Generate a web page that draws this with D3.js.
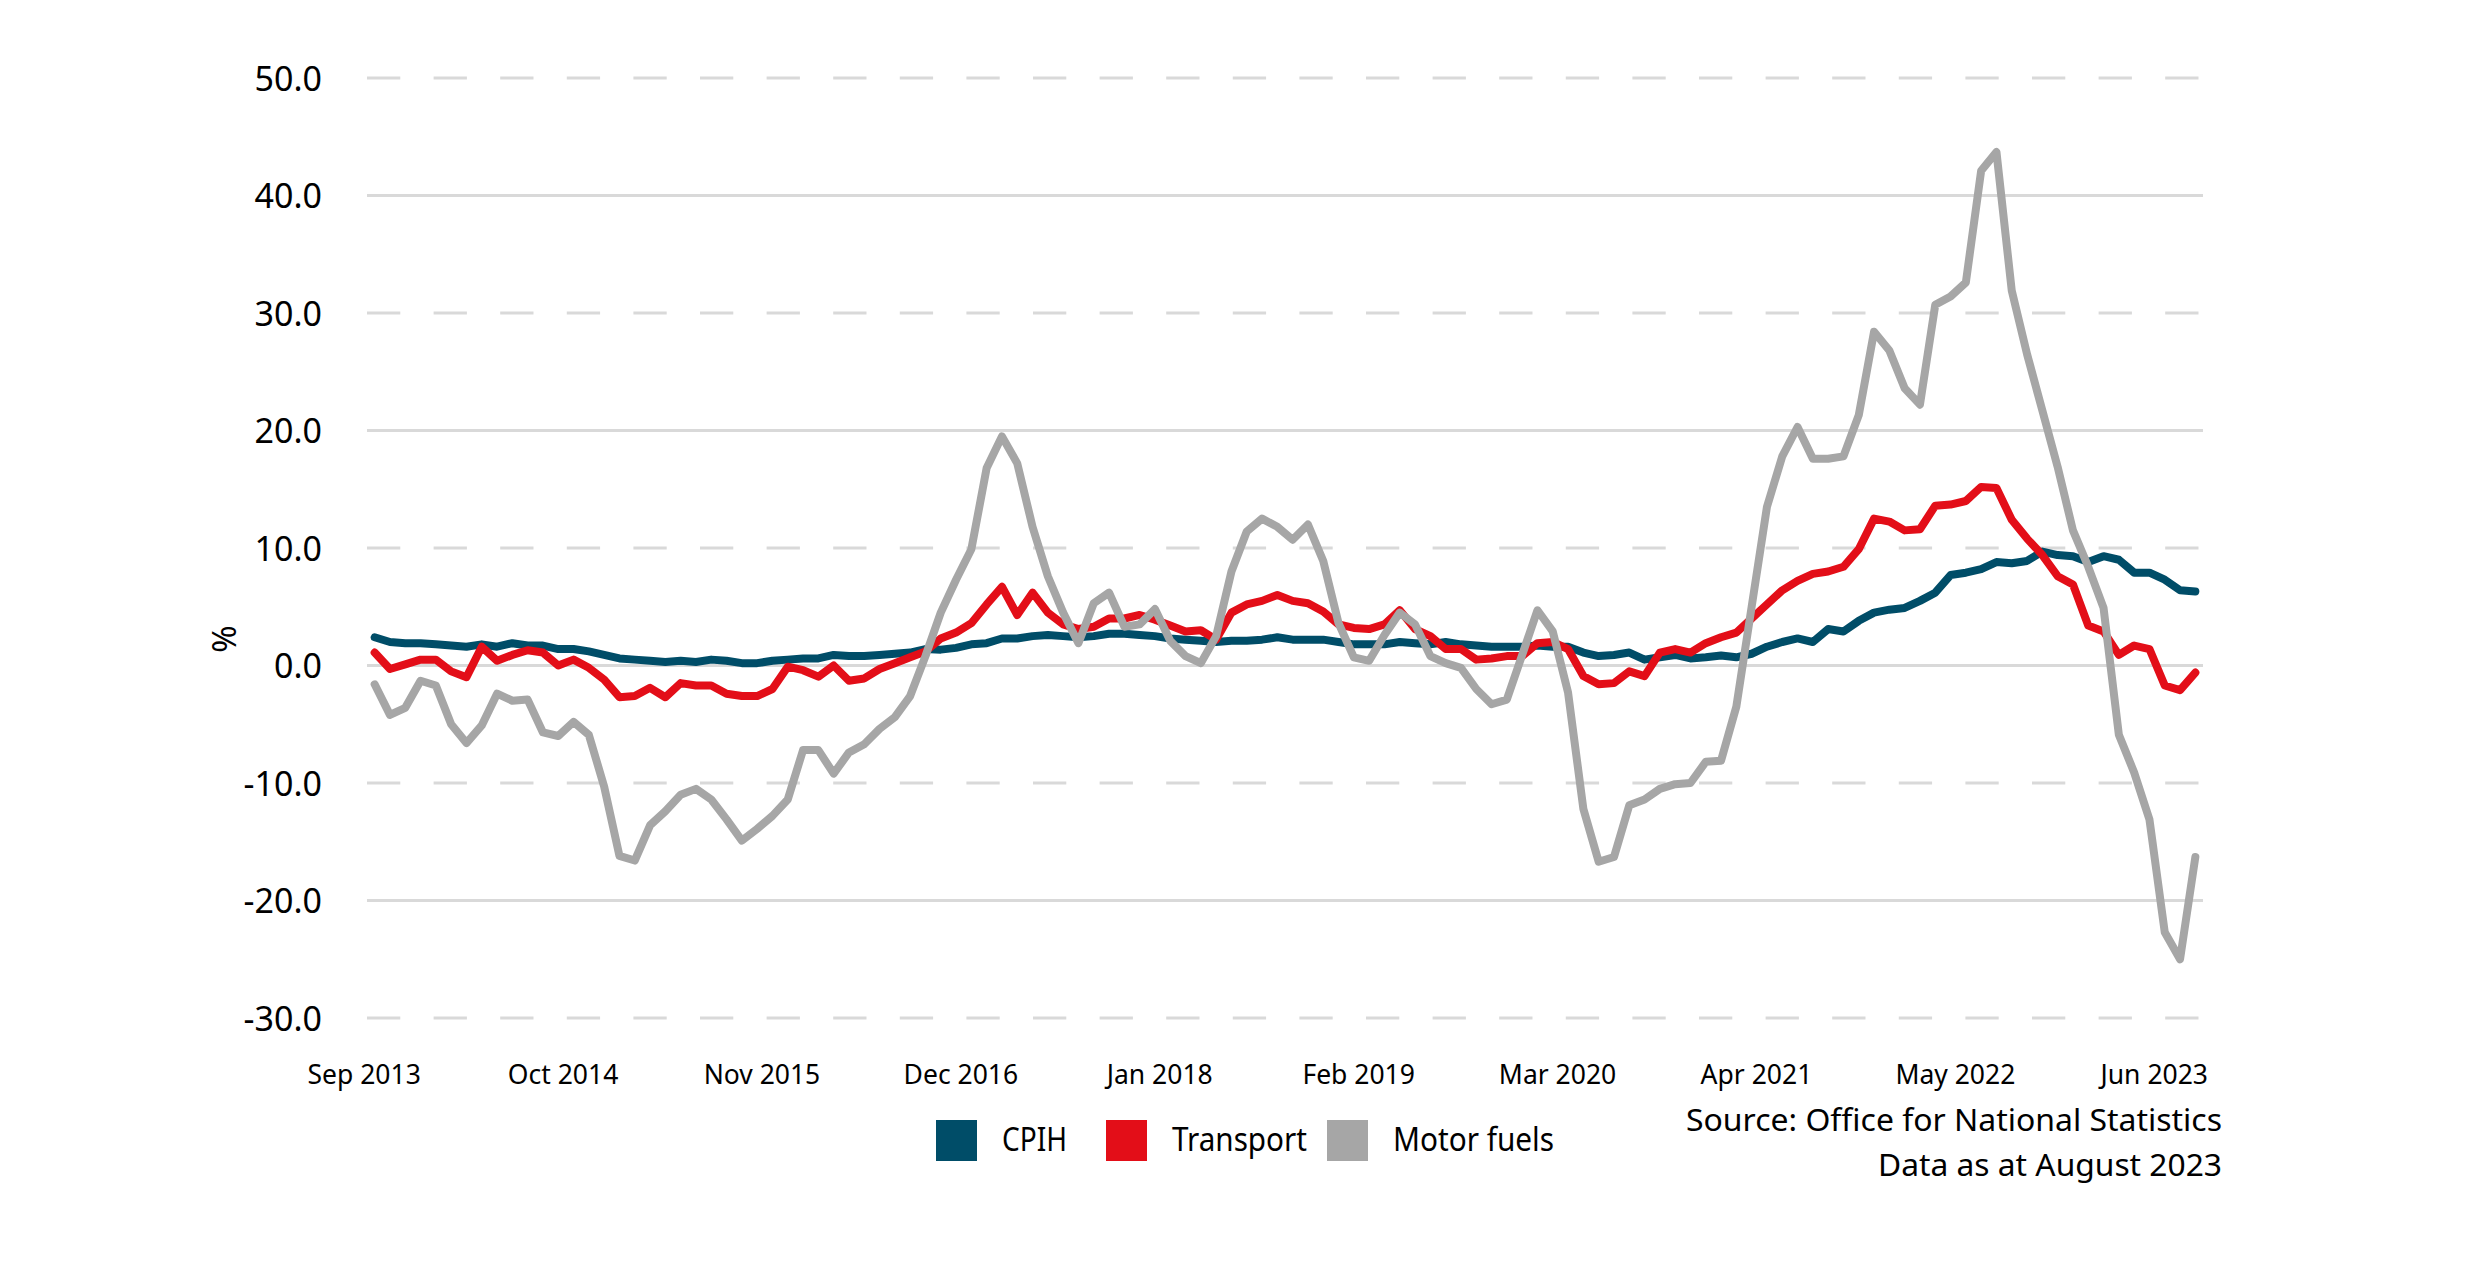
<!DOCTYPE html>
<html>
<head>
<meta charset="utf-8">
<script src="https://cdn.jsdelivr.net/npm/d3@7"></script>
<style>
  body { margin: 0; background: #ffffff; }
  svg { display: block; }
  text { font-family: 'Noto Sans', 'Open Sans', sans-serif; fill: #000; }
</style>
</head>
<body>
<svg id="chart" width="2480" height="1280"></svg>
<script>
// ---------------- DATA ----------------
// Monthly categories Sep 2013 .. Aug 2023 (120 months)
const categories = d3.timeMonth
  .range(new Date(2013, 8, 1), new Date(2023, 8, 1))
  .map(d3.timeFormat("%b %Y"));

const tickLabels = ["Sep 2013", "Oct 2014", "Nov 2015", "Dec 2016", "Jan 2018",
                    "Feb 2019", "Mar 2020", "Apr 2021", "May 2022", "Jun 2023"];

const cpih = [
  2.4, 2.0, 1.9, 1.9, 1.8, 1.7, 1.6, 1.8, 1.6, 1.9,
  1.7, 1.7, 1.4, 1.4, 1.2, 0.9, 0.6, 0.5, 0.4, 0.3,
  0.4, 0.3, 0.5, 0.4, 0.2, 0.2, 0.4, 0.5, 0.6, 0.6,
  0.9, 0.8, 0.8, 0.9, 1.0, 1.1, 1.4, 1.35, 1.5, 1.8,
  1.9, 2.3, 2.3, 2.5, 2.6, 2.5, 2.4, 2.5, 2.7, 2.7,
  2.6, 2.5, 2.3, 2.2, 2.1, 2.0, 2.1, 2.1, 2.2, 2.4,
  2.2, 2.2, 2.2, 2.0, 1.8, 1.8, 1.8, 2.0, 1.9, 1.8,
  2.0, 1.8, 1.7, 1.6, 1.6, 1.6, 1.7, 1.6, 1.6, 1.1,
  0.8, 0.9, 1.1, 0.5, 0.7, 0.9, 0.6, 0.7, 0.85, 0.7,
  1.0, 1.6, 2.0, 2.3, 2.0, 3.1, 2.9, 3.8, 4.5, 4.75,
  4.9, 5.5, 6.2, 7.7, 7.9, 8.2, 8.8, 8.7, 8.9, 9.7,
  9.4, 9.3, 8.8, 9.3, 9.0, 7.9, 7.9, 7.3, 6.4, 6.3
];

const transport = [
  1.1, -0.3, 0.1, 0.5, 0.5, -0.5, -1.0, 1.6, 0.4, 0.9,
  1.3, 1.1, 0.0, 0.5, -0.2, -1.2, -2.7, -2.6, -1.9, -2.7,
  -1.5, -1.7, -1.7, -2.4, -2.6, -2.6, -2.0, -0.1, -0.4, -0.95,
  0.0, -1.3, -1.1, -0.3, 0.2, 0.7, 1.2, 2.3, 2.8, 3.6,
  5.2, 6.7, 4.3, 6.2, 4.5, 3.5, 3.1, 3.3, 4.0, 4.0,
  4.3, 3.9, 3.4, 2.9, 3.0, 2.2, 4.5, 5.2, 5.5, 6.0,
  5.5, 5.3, 4.6, 3.5, 3.2, 3.1, 3.5, 4.7, 3.1, 2.5,
  1.4, 1.4, 0.5, 0.6, 0.8, 0.8, 1.9, 2.0, 1.4, -0.9,
  -1.6, -1.5, -0.5, -0.9, 1.1, 1.4, 1.1, 1.9, 2.4, 2.8,
  4.0, 5.2, 6.4, 7.2, 7.8, 8.0, 8.4, 9.9, 12.5, 12.25,
  11.5, 11.6, 13.6, 13.7, 14.0, 15.2, 15.1, 12.4, 10.8, 9.4,
  7.6, 6.9, 3.4, 2.9, 0.9, 1.7, 1.4, -1.7, -2.1, -0.6
];

const motorFuels = [
  -1.6, -4.2, -3.6, -1.3, -1.7, -5.0, -6.6, -5.1, -2.4, -3.0,
  -2.9, -5.7, -6.0, -4.8, -5.9, -10.3, -16.2, -16.6, -13.6, -12.4,
  -11.0, -10.5, -11.4, -13.1, -14.9, -13.9, -12.8, -11.4, -7.2, -7.2,
  -9.2, -7.4, -6.7, -5.4, -4.4, -2.6, 0.8, 4.5, 7.3, 9.9,
  16.8, 19.5, 17.2, 11.8, 7.6, 4.5, 1.9, 5.3, 6.2, 3.3,
  3.5, 4.8, 2.1, 0.8, 0.2, 2.5, 8.0, 11.4, 12.5, 11.8,
  10.7, 12.0, 8.9, 3.6, 0.7, 0.4, 2.6, 4.5, 3.5, 0.8,
  0.2, -0.2, -2.0, -3.3, -2.9, 0.9, 4.7, 2.9, -2.3, -12.2,
  -16.7, -16.3, -11.9, -11.4, -10.5, -10.1, -10.0, -8.2, -8.1, -3.5,
  5.0, 13.5, 17.8, 20.3, 17.6, 17.6, 17.8, 21.3, 28.4, 26.8,
  23.6, 22.2, 30.7, 31.4, 32.6, 42.1, 43.7, 31.9, 26.5, 21.7,
  16.9, 11.5, 8.4, 4.9, -5.9, -9.1, -13.1, -22.7, -25.0, -16.3
];

const seriesNames = ["CPIH", "Transport", "Motor fuels"];
const yTicks = [-30, -20, -10, 0, 10, 20, 30, 40, 50];
const yMajorTicks = [-20, 0, 20, 40];
const sourceLines = ["Source: Office for National Statistics", "Data as at August 2023"];
const yAxisTitle = "%";

// ---------------- STYLE / LAYOUT ----------------
const seriesColors = ["#004d68", "#e30e18", "#a6a6a6"];
const W = 2480, H = 1280;
const plot = { left: 367, right: 2203, top: 78, bottom: 1018 };

const svg = d3.select("#chart");
svg.append("rect").attr("width", W).attr("height", H).attr("fill", "#fff");

const x = d3.scalePoint().domain(categories).range([plot.left, plot.right]).padding(0.5);
const y = d3.scaleLinear().domain([-30, 50]).range([plot.bottom, plot.top]);

// gridlines
svg.append("g").selectAll("line").data(yTicks).join("line")
  .attr("x1", plot.left).attr("x2", plot.right)
  .attr("y1", d => y(d)).attr("y2", d => y(d))
  .attr("stroke", "#d9d9d9")
  .attr("stroke-width", 2.8)
  .attr("stroke-dasharray", d => yMajorTicks.includes(d) ? null : "33.3 33.3");

// y axis labels
const fmt = v => d3.format(".1f")(v).replace("\u2212", "-");
const yAxis = d3.axisLeft(y).tickValues(yTicks).tickFormat(fmt).tickSize(0).tickPadding(0);
const gy = svg.append("g").attr("transform", "translate(322,0)").call(yAxis);
gy.select(".domain").remove();
gy.selectAll("text")
  .style("font-family", "'Noto Sans', sans-serif")
  .style("font-size", "34px")
  .attr("fill", "#000")
  .attr("dy", "0.36em");

// y title
svg.append("text")
  .attr("transform", "translate(236,639) rotate(-90)")
  .attr("text-anchor", "middle")
  .style("font-size", "33px")
  .text(yAxisTitle);

// x axis labels
const xAxis = d3.axisBottom(x).tickValues(tickLabels).tickSize(0).tickPadding(0);
const gx = svg.append("g").attr("transform", "translate(-11,1065)").call(xAxis);
gx.select(".domain").remove();
gx.selectAll("text")
  .style("font-family", "'Noto Sans', sans-serif")
  .style("font-size", "26.5px")
  .attr("fill", "#000")
  .attr("dy", "0.71em");

// lines
const allSeries = [cpih, transport, motorFuels];
const line = d3.line()
  .x((d, i) => x(categories[i]))
  .y(d => y(d));

svg.append("g").selectAll("path").data(allSeries).join("path")
  .attr("d", d => line(d))
  .attr("fill", "none")
  .attr("stroke", (d, i) => seriesColors[i])
  .attr("stroke-width", 8)
  .attr("stroke-linejoin", "round")
  .attr("stroke-linecap", "round");

// legend
const legendSwatchX = [936, 1106, 1327];
const legendTextW = [65, 135, 161];
const lg = svg.append("g");
seriesNames.forEach((name, i) => {
  lg.append("rect")
    .attr("x", legendSwatchX[i]).attr("y", 1120)
    .attr("width", 41).attr("height", 41)
    .attr("fill", seriesColors[i]);
  lg.append("text")
    .attr("x", legendSwatchX[i] + 66).attr("y", 1151)
    .style("font-size", "32px")
    .attr("textLength", legendTextW[i])
    .attr("lengthAdjust", "spacingAndGlyphs")
    .text(name);
});

// source
const sourceW = [536, 344];
const sourceY = [1131, 1176];
sourceLines.forEach((t, i) => {
  svg.append("text")
    .attr("x", 2222 - sourceW[i]).attr("y", sourceY[i])
    .style("font-size", "31px")
    .attr("textLength", sourceW[i])
    .attr("lengthAdjust", "spacingAndGlyphs")
    .text(t);
});
</script>
</body>
</html>
